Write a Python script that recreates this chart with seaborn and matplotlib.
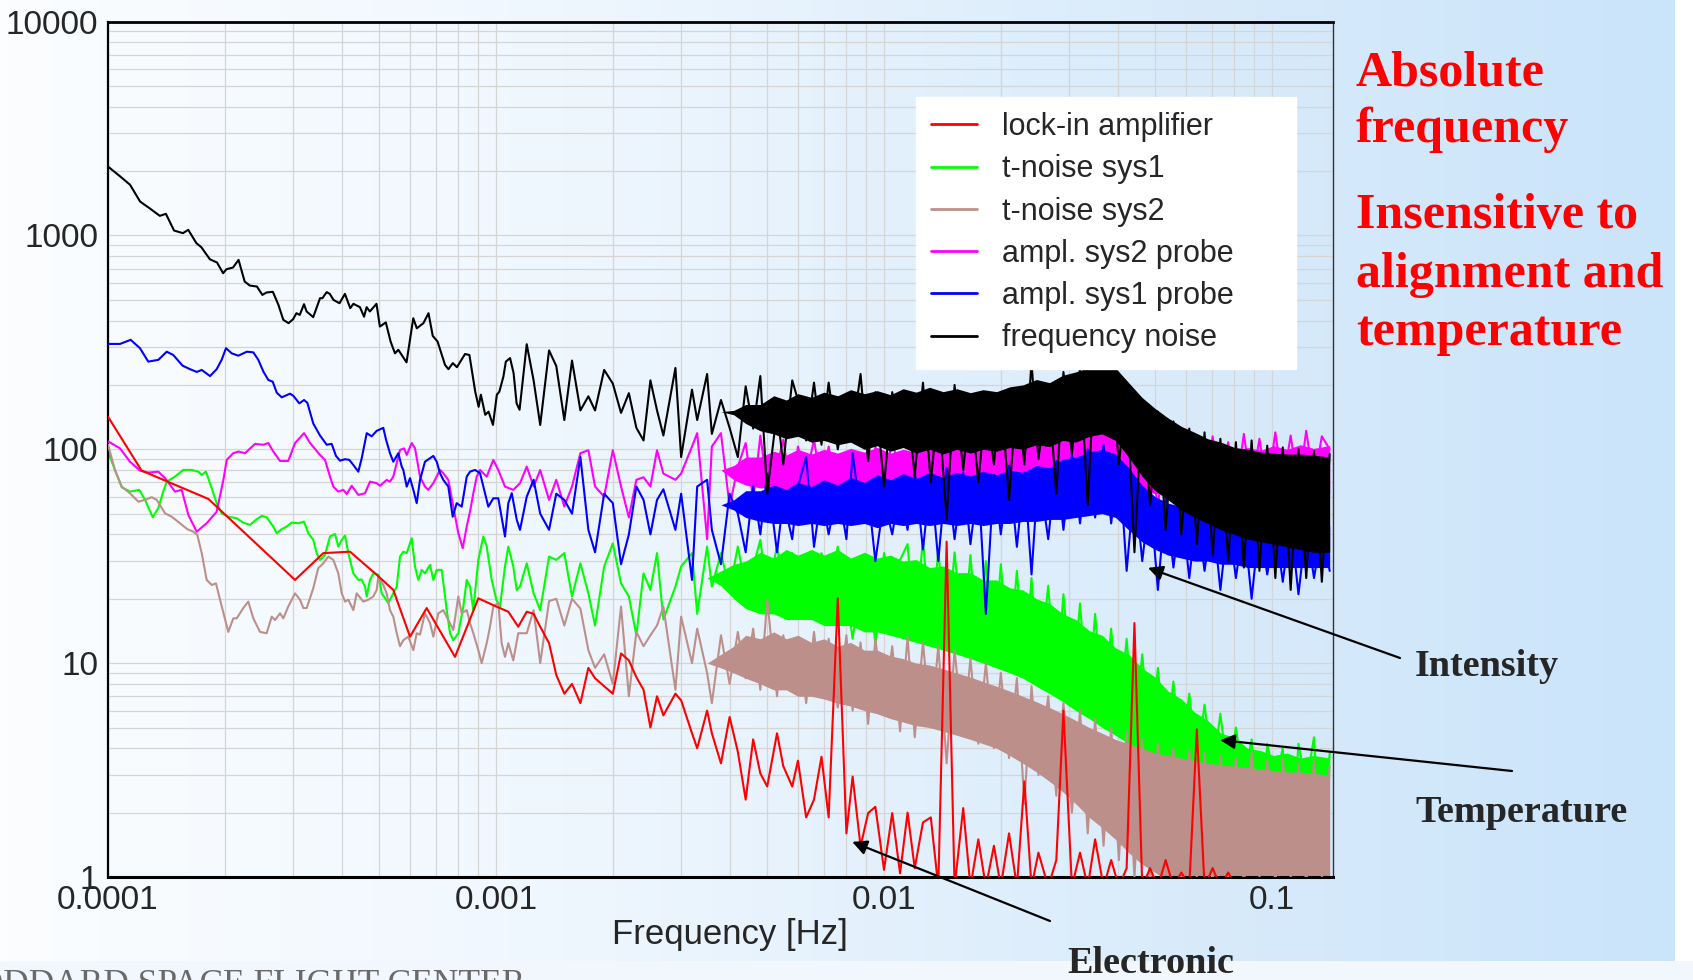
import numpy as np
import matplotlib
matplotlib.use("Agg")
import matplotlib.pyplot as plt
from matplotlib.colors import LinearSegmentedColormap
from matplotlib.lines import Line2D
from matplotlib.patches import Rectangle
from matplotlib.ticker import LogLocator, NullFormatter
import seaborn as sns

# ---------------- values ----------------
# low-frequency part: each trace has its own sample points
red_f_lo = [1.0e-4, 1.221e-4, 1.814e-4, 3.034e-4, 3.589e-4, 4.205e-4, 4.926e-4, 5.436e-4,
            6.004e-4, 6.627e-4, 7.84e-4, 9.004e-4, 1.0018e-3, 1.0758e-3, 1.141e-3]
red_v_lo = [142, 79.5, 58.6, 24.5, 32.7, 33.2, 25.9, 22, 13.3, 18.1, 10.7, 20.1, 18.4, 17.4, 14.8]

green_f_lo = [1.00e-4, 1.042e-4, 1.085e-4, 1.139e-4, 1.204e-4, 1.246e-4, 1.304e-4, 1.348e-4, 1.388e-4, 1.417e-4,
              1.488e-4, 1.563e-4, 1.643e-4, 1.709e-4, 1.744e-4, 1.788e-4, 1.832e-4, 1.906e-4, 1.963e-4, 2.042e-4,
              2.146e-4, 2.232e-4, 2.323e-4, 2.416e-4, 2.489e-4, 2.564e-4, 2.667e-4, 2.722e-4, 2.803e-4, 2.887e-4,
              2.974e-4, 3.094e-4, 3.201e-4, 3.283e-4, 3.381e-4, 3.450e-4, 3.519e-4, 3.625e-4, 3.734e-4, 3.847e-4,
              3.922e-4, 4.003e-4, 4.083e-4, 4.163e-4, 4.288e-4, 4.417e-4, 4.507e-4, 4.596e-4, 4.643e-4, 4.734e-4,
              4.828e-4, 4.974e-4, 5.075e-4, 5.277e-4, 5.436e-4, 5.548e-4, 5.657e-4, 5.769e-4, 5.886e-4, 6.064e-4,
              6.184e-4, 6.306e-4, 6.435e-4, 6.561e-4, 6.760e-4, 6.893e-4, 7.034e-4, 7.246e-4, 7.464e-4, 7.612e-4,
              7.762e-4, 7.996e-4, 8.238e-4, 8.405e-4, 8.571e-4, 8.741e-4, 9.004e-4, 9.275e-4, 9.463e-4, 9.748e-4,
              1.0018e-3, 1.024e-3, 1.0548e-3, 1.0758e-3, 1.108e-3, 1.131e-3, 1.153e-3]
green_v_lo = [97.6, 80.1, 66.5, 63.4, 64.6, 58, 48.1, 53.1, 63.4, 70.6,
              74.5, 80.1, 80.1, 78.6, 75.9, 78.6, 69.4, 56, 50.2, 48.4,
              47.6, 45.4, 44.3, 47.1, 48.8, 48.1, 43.5, 40.5, 42.3, 43.5,
              45.4, 45.1, 45.9, 40.5, 37.7, 32.7, 30.4, 32.1, 39.1, 40.2,
              35.1, 37.7, 39.5, 32.7, 26.3, 24.5, 24.6, 22.8, 20.5, 24.5,
              26.3, 25.9, 21.2, 19.1, 21.2, 22.8, 31.5, 33.2, 32.7, 38.4,
              28.3, 24.5, 27.3, 26.3, 28.8, 24.5, 27.3, 27.3, 17.7, 13.8,
              12.8, 13.8, 18.4, 24.5, 22.8, 17.7, 30.4, 39.1, 35.1, 24.5,
              19.8, 18.4, 28.3, 35.1, 28.3, 22, 22.8]

brown_f_lo = [1.00e-4, 1.042e-4, 1.085e-4, 1.139e-4, 1.197e-4, 1.246e-4, 1.296e-4, 1.335e-4, 1.403e-4, 1.459e-4,
              1.533e-4, 1.601e-4, 1.659e-4, 1.699e-4, 1.744e-4, 1.796e-4, 1.851e-4, 1.898e-4, 1.944e-4, 2.042e-4,
              2.103e-4, 2.146e-4, 2.232e-4, 2.299e-4, 2.369e-4, 2.465e-4, 2.564e-4, 2.642e-4, 2.694e-4, 2.776e-4,
              2.830e-4, 2.915e-4, 3.034e-4, 3.125e-4, 3.187e-4, 3.252e-4, 3.381e-4, 3.483e-4, 3.589e-4, 3.697e-4,
              3.808e-4, 3.922e-4, 4.003e-4, 4.083e-4, 4.163e-4, 4.288e-4, 4.375e-4, 4.550e-4, 4.687e-4, 4.828e-4,
              4.926e-4, 4.974e-4, 5.123e-4, 5.227e-4, 5.330e-4, 5.436e-4, 5.548e-4, 5.657e-4, 5.769e-4, 5.943e-4,
              6.123e-4, 6.246e-4, 6.370e-4, 6.561e-4, 6.760e-4, 6.893e-4, 7.100e-4, 7.315e-4, 7.535e-4, 7.762e-4,
              7.996e-4, 8.159e-4, 8.405e-4, 8.571e-4, 8.741e-4, 9.004e-4, 9.186e-4, 9.463e-4, 9.650e-4, 9.841e-4,
              1.0137e-3, 1.034e-3, 1.0548e-3, 1.0758e-3, 1.108e-3, 1.141e-3]
brown_v_lo = [105, 80.1, 66.9, 62.3, 56.9, 58, 59.7, 58, 50.2, 48.4,
              45.1, 42.3, 41.2, 39.8, 32.7, 24.5, 23.2, 23.6, 19.8, 14,
              16.2, 16.2, 18.1, 19.4, 16.2, 14, 13.8, 16.5, 15.9, 17.1,
              16.2, 18.4, 21.2, 19.8, 18.1, 18.1, 22.4, 27.8, 29.3, 31.5,
              30.4, 26.3, 21.2, 19.4, 19.8, 17.7, 21.2, 19.4, 19.8, 20.5,
              22, 25.4, 23.2, 21.2, 17.7, 16.5, 13.8, 12, 12.8, 13.3,
              11.5, 13.8, 13.6, 17.1, 15.4, 13.3, 17.1, 17.7, 15.9, 14.3,
              20.5, 17.1, 17.7, 15.4, 13.8, 11.5, 10, 12.4, 14.8, 18.4,
              19.1, 12.4, 10.7, 12.4, 10.3, 13.8]

magenta_f_lo = [1.00e-4, 1.074e-4, 1.139e-4, 1.209e-4, 1.270e-4, 1.348e-4, 1.403e-4, 1.488e-4, 1.549e-4, 1.611e-4,
                1.693e-4, 1.796e-4, 1.906e-4, 1.983e-4, 2.023e-4, 2.103e-4, 2.167e-4, 2.255e-4, 2.393e-4, 2.514e-4,
                2.589e-4, 2.667e-4, 2.776e-4, 2.915e-4, 3.034e-4, 3.201e-4, 3.317e-4, 3.519e-4, 3.625e-4, 3.734e-4,
                3.808e-4, 3.922e-4, 4.041e-4, 4.123e-4, 4.247e-4, 4.417e-4, 4.596e-4, 4.734e-4, 4.926e-4, 5.023e-4,
                5.227e-4, 5.330e-4, 5.436e-4, 5.548e-4, 5.657e-4, 5.793e-4, 5.886e-4, 6.064e-4, 6.184e-4, 6.370e-4,
                6.561e-4, 6.691e-4, 6.893e-4, 7.173e-4, 7.315e-4, 7.535e-4, 7.762e-4, 7.996e-4, 8.209e-4, 8.405e-4,
                8.571e-4, 8.741e-4, 8.919e-4, 9.096e-4, 9.463e-4, 9.650e-4, 9.841e-4, 1.0137e-3, 1.0548e-3, 1.108e-3,
                1.153e-3]
magenta_v_lo = [109, 101, 87.5, 79.5, 77.8, 78.6, 73.3, 63.4, 64.6, 49.3,
                41.2, 45.1, 51.1, 71.9, 89.2, 95.9, 97.6, 95.9, 106, 105,
                107, 97.6, 88.2, 88.2, 107, 119, 107, 94.1, 89.2, 74.5,
                66.9, 63.4, 64.6, 61.8, 67.5, 61.2, 62.3, 70.6, 69.4, 67.5,
                71.9, 70.6, 74.5, 86.1, 99.3, 101, 94.1, 107, 101, 74.5,
                66.9, 64.6, 69.4, 80.1, 77.3, 71.9, 53.9, 40.5, 34.5, 43.5,
                51.1, 62.3, 74.5, 80.1, 74.5, 81.6, 89.2, 80.1, 66.9, 64.6,
                69.4]

blue_f_lo = [1.00e-4, 1.074e-4, 1.144e-4, 1.209e-4, 1.270e-4, 1.348e-4, 1.417e-4, 1.473e-4, 1.557e-4, 1.627e-4,
             1.693e-4, 1.744e-4, 1.832e-4, 1.906e-4, 1.963e-4, 2.014e-4, 2.084e-4, 2.167e-4, 2.279e-4, 2.369e-4,
             2.440e-4, 2.514e-4, 2.589e-4, 2.658e-4, 2.722e-4, 2.803e-4, 2.945e-4, 3.003e-4, 3.112e-4, 3.201e-4,
             3.264e-4, 3.381e-4, 3.519e-4, 3.662e-4, 3.771e-4, 3.869e-4, 3.962e-4, 4.083e-4, 4.188e-4, 4.288e-4,
             4.417e-4, 4.507e-4, 4.643e-4, 4.781e-4, 4.926e-4, 5.123e-4, 5.206e-4, 5.330e-4, 5.436e-4, 5.601e-4,
             5.715e-4, 5.769e-4, 5.886e-4, 6.004e-4, 6.123e-4, 6.246e-4, 6.370e-4, 6.561e-4, 6.760e-4, 6.893e-4,
             7.034e-4, 7.173e-4, 7.315e-4, 7.535e-4, 7.735e-4, 7.920e-4, 8.159e-4, 8.405e-4, 8.571e-4, 8.829e-4,
             9.096e-4, 9.275e-4, 9.555e-4, 9.841e-4, 1.0137e-3, 1.0548e-3, 1.0758e-3, 1.098e-3, 1.131e-3, 1.153e-3]
blue_v_lo = [311, 311, 325, 297, 257, 262, 286, 276, 246, 237,
             230, 235, 220, 237, 262, 297, 281, 274, 286, 284,
             262, 231, 211, 207, 184, 175, 182, 178, 164, 170,
             165, 132, 116, 105, 106, 93.1, 88.5, 89.9, 89.2, 84.5,
             78.6, 90.8, 119, 115, 122, 126, 111, 95.9, 87.5, 95.9,
             83, 80.1, 66.9, 73.3, 64.6, 56, 71.9, 87.5, 90.8, 93.1,
             87.5, 77.3, 71.9, 66.9, 48.4, 56, 53.9, 74.5, 78.6, 80.1,
             77.3, 66.9, 53.9, 59, 59, 39.1, 56, 62.3, 46.8, 42]

black_f_lo = [1.00e-4, 1.074e-4, 1.14e-4, 1.21e-4, 1.28e-4, 1.36e-4, 1.41e-4, 1.48e-4, 1.56e-4, 1.61e-4,
              1.69e-4, 1.74e-4, 1.83e-4, 1.91e-4, 1.98e-4, 2.02e-4, 2.10e-4, 2.17e-4, 2.25e-4, 2.32e-4,
              2.42e-4, 2.50e-4, 2.56e-4, 2.66e-4, 2.75e-4, 2.83e-4, 2.92e-4, 3.00e-4, 3.06e-4, 3.12e-4,
              3.20e-4, 3.25e-4, 3.38e-4, 3.52e-4, 3.57e-4, 3.66e-4, 3.73e-4, 3.81e-4, 3.95e-4, 4.08e-4,
              4.21e-4, 4.29e-4, 4.46e-4, 4.57e-4, 4.64e-4, 4.73e-4, 4.92e-4, 5.02e-4, 5.20e-4, 5.35e-4,
              5.49e-4, 5.60e-4, 5.88e-4, 6.12e-4, 6.25e-4, 6.50e-4, 6.70e-4, 6.87e-4, 7.07e-4, 7.39e-4,
              7.54e-4, 7.74e-4, 7.93e-4, 8.32e-4, 8.54e-4, 8.84e-4, 9.02e-4, 9.14e-4, 9.38e-4, 9.57e-4,
              9.82e-4, 1.005e-3, 1.02e-3, 1.045e-3, 1.06e-3, 1.087e-3, 1.11e-3, 1.13e-3, 1.15e-3]
black_v_lo = [2100, 1890, 1725, 1440, 1340, 1235, 1262, 1054, 1025, 1062,
              920, 881, 774, 747, 666, 695, 708, 769, 609, 583,
              577, 527, 541, 545, 473, 403, 389, 406, 433, 425,
              477, 441, 415, 509, 509, 543, 533, 500, 482, 533,
              457, 479, 462, 417, 462, 441, 479, 375, 392, 319,
              281, 292, 255, 410, 368, 389, 433, 339, 319, 248,
              237, 253, 242, 279, 276, 186, 158, 180, 145, 150,
              130, 180, 186, 219, 257, 267, 227, 164, 153]

# high-frequency part: all traces read at the same frequencies
dense_f = [0.0012, 0.00125, 0.0013, 0.00137, 0.00143, 0.0015, 0.00157, 0.00165, 0.00173, 0.0018,
           0.0019, 0.002, 0.0021, 0.0022, 0.0023, 0.0024, 0.0025, 0.0026, 0.0027, 0.0029,
           0.003, 0.0032, 0.0033, 0.0035, 0.0036, 0.0038, 0.004, 0.0042, 0.0044, 0.0046,
           0.0048, 0.005, 0.0053, 0.0055, 0.0058, 0.006, 0.0063, 0.0066, 0.0069, 0.0072,
           0.0076, 0.008, 0.0083, 0.0087, 0.0091, 0.0095, 0.01, 0.0105, 0.011, 0.0115,
           0.012, 0.0126, 0.0132, 0.0138, 0.0145, 0.0152, 0.016, 0.0167, 0.0175, 0.0183,
           0.0192, 0.02, 0.021, 0.022, 0.023, 0.024, 0.025, 0.0265, 0.0278, 0.029,
           0.0305, 0.032, 0.0335, 0.035, 0.0368, 0.0385, 0.0403, 0.0422, 0.0442, 0.0463,
           0.0485, 0.0508, 0.0532, 0.0557, 0.0584, 0.0612, 0.064, 0.067, 0.0703, 0.0736,
           0.0771, 0.0807, 0.0846, 0.0886, 0.0928, 0.0972, 0.102, 0.1066, 0.1117, 0.117,
           0.1225, 0.1283, 0.1344, 0.1408]

red_v_hi = [17.4, 17, 14.8, 12.4, 8.8, 7.2, 8.0, 6.5, 9.5, 8.5,
            7.8, 7.2, 11.1, 10.3, 8.6, 7.5, 5.0, 7.0, 5.7, 7.2,
            6.7, 4.7, 4.0, 6.0, 4.7, 3.4, 5.6, 3.85, 2.3, 4.4,
            3.05, 2.65, 4.7, 3.3, 2.65, 3.5, 1.9, 2.3, 3.65, 1.9,
            20.1, 1.6, 2.95, 1.39, 1.99, 2.13, 1.08, 1.99, 1.04, 2.0,
            1.1, 1.8, 1.9, 0.9, 37, 0.9, 2.1, 0.9, 1.5, 0.9,
            1.4, 0.9, 1.6, 0.9, 2.8, 0.9, 1.3, 0.9, 1.2, 6.0,
            0.9, 1.3, 0.9, 1.5, 0.9, 1.2, 0.9, 1.1, 15.4, 0.9,
            1.1, 0.9, 1.2, 0.9, 1.05, 0.9, 4.9, 0.9, 1.1, 0.9,
            1.05, 0.9, 0.8, 0.9, 0.8, 0.9, 0.8, 0.9, 0.8, 0.9,
            0.8, 0.9, 0.8, 0.8]
green_v_hi = [29.3, 21.2, 17.7, 31.5, 30.4, 32.7, 20.5, 29.3, 21.2, 15,
              28.3, 36.3, 23.6, 20.5, 13.5, 26.3, 22, 32.7, 16, 22.8,
              28.3, 32.7, 17, 35.1, 22.8, 32.7, 22, 35.1, 22.8, 28.3,
              37.7, 21.2, 35.1, 23.6, 32.7, 21.2, 30.4, 22, 32.7, 21.2,
              35.1, 21.2, 13, 22.8, 31.5, 12, 32.7, 21.2, 30.4, 36,
              14, 38, 13, 34, 12, 33, 12.5, 32, 11, 30,
              10.5, 29, 10, 27, 9, 25, 8.5, 23, 7.5, 21,
              7, 19, 6.2, 17, 5.6, 14.5, 5.2, 13, 4.6, 11,
              4.2, 9.5, 3.9, 8.2, 3.5, 7.2, 3.3, 6.4, 3.1, 5.8,
              2.9, 5, 2.8, 4.4, 1.1, 4.2, 2.8, 4.0, 1.2, 4.2,
              2.7, 4.5, 1.1, 3.8]
brown_v_hi = [13.8, 17.7, 10, 19.5, 20, 15, 20, 18, 11.5, 9.5,
              11, 8, 18.4, 7, 14, 12, 13.5, 15, 18.4, 7.5,
              16.5, 10, 14.5, 9, 6.5, 13.5, 8, 14, 8.5, 14.5,
              7.5, 19.8, 7, 13.5, 7.5, 13, 6.5, 14, 7, 13,
              6.2, 13.5, 6, 12.5, 5.2, 13, 6, 12, 4.8, 13.3,
              4.5, 12.5, 5, 12, 3.4, 11.5, 4.6, 10.5, 4.2, 10,
              4, 9, 3.6, 8.5, 2.2, 7.8, 3, 7, 2.4, 6.5,
              2, 6, 1.6, 5.5, 1.4, 5, 1.2, 4.8, 1.0, 4.4,
              0.9, 4.2, 1.1, 4.0, 0.9, 3.9, 1.0, 3.8, 0.9, 3.7,
              1.0, 3.6, 0.9, 3.8, 1.0, 3.5, 0.9, 3.6, 1.0, 3.4,
              0.9, 3.5, 1.0, 3.3]
magenta_v_hi = [83, 67, 80, 58, 72, 54, 67, 96, 99, 67,
                60, 99, 67, 48, 72, 74, 67, 99, 77, 72,
                77, 103, 119, 38, 103, 119, 54, 83, 107, 58,
                116, 67, 83, 111, 58, 103, 74, 111, 67, 103,
                58, 96, 62, 92, 54, 103, 67, 111, 74, 62,
                112, 58, 105, 66, 118, 60, 108, 70, 112, 64,
                104, 72, 115, 66, 106, 60, 112, 70, 120, 72,
                118, 75, 125, 80, 128, 82, 120, 70, 95, 52,
                90, 55, 100, 58, 105, 62, 110, 60, 115, 65,
                108, 62, 118, 66, 112, 64, 120, 68, 116, 65,
                122, 70, 115, 100]
blue_v_hi = [60, 72, 50, 42, 62, 58, 50, 92, 42, 33,
             62, 56, 29, 40, 67, 58, 40, 58, 65, 42,
             62, 24.5, 67, 72, 42, 29, 62, 50, 33, 67,
             40, 77, 33, 58, 38, 67, 92, 35, 62, 40,
             67, 38, 96, 50, 62, 30, 58, 40, 67, 42,
             80, 34, 75, 30, 82, 38, 78, 36, 72, 17,
             76, 40, 84, 35, 78, 26, 80, 38, 88, 42,
             95, 45, 100, 48, 105, 45, 95, 27, 70, 30,
             62, 22, 60, 28, 55, 25, 52, 27, 50, 22,
             48, 25, 46, 20, 45, 26, 44, 24, 46, 21,
             44, 25, 42, 27]
black_v_hi = [310, 210, 130, 290, 245, 137, 260, 152, 177, 152,
              235, 203, 148, 183, 126, 110, 210, 152, 116, 240,
              92, 190, 137, 225, 118, 170, 126, 92, 197, 125,
              220, 62, 152, 85, 210, 170, 110, 205, 105, 205,
              100, 170, 120, 225, 88, 185, 67, 185, 110, 160,
              75, 205, 70, 165, 47, 200, 80, 175, 70, 165,
              85, 185, 58, 190, 85, 255, 90, 200, 62, 230,
              95, 240, 55, 265, 120, 240, 85, 190, 33, 165,
              55, 150, 42, 135, 40, 125, 36, 120, 32, 112,
              30, 108, 28, 110, 27, 104, 25, 102, 22, 100,
              25, 98, 24, 95]

# solid cores of the noisy traces (lower / upper edge)
band_f = [0.0035, 0.0038, 0.0041, 0.0044, 0.0048, 0.0052, 0.0056, 0.006, 0.0065, 0.007,
          0.0076, 0.0082, 0.0089, 0.0096, 0.0104, 0.0112, 0.0121, 0.0131, 0.0142, 0.0154,
          0.0167, 0.018, 0.0195, 0.0211, 0.0228, 0.0247, 0.0267, 0.0289, 0.0312, 0.0338,
          0.0365, 0.0395, 0.0427, 0.0462, 0.05, 0.054, 0.0584, 0.0632, 0.0683, 0.0739,
          0.08, 0.0865, 0.0935, 0.101, 0.1094, 0.1183, 0.128, 0.1408]
black_lo = [150, 150, 145, 132, 122, 118, 112, 115, 108, 110,
            105, 108, 100, 104, 98, 102, 96, 100, 95, 100,
            96, 100, 98, 102, 100, 105, 103, 110, 108, 115,
            118, 110, 92, 75, 64, 58, 52, 48, 45, 42,
            40, 38, 37, 36, 35, 34, 33, 33]
black_up = [150, 150, 152, 162, 162, 178, 170, 182, 175, 185,
            178, 190, 182, 188, 180, 192, 185, 195, 186, 192,
            184, 190, 186, 196, 200, 212, 205, 222, 230, 242,
            260, 240, 205, 175, 155, 140, 128, 120, 112, 108,
            102, 100, 97, 96, 95, 95, 94, 92]
magenta_lo = [80, 80, 72, 68, 66, 66, 65, 65, 65, 65,
              65, 65, 65, 65, 65, 65, 66, 66, 66, 67,
              67, 68, 68, 70, 70, 72, 72, 74, 75, 78,
              80, 78, 70, 64, 62, 62, 62, 62, 62, 62,
              62, 62, 62, 62, 62, 62, 62, 62]
magenta_up = [80, 80, 84, 92, 92, 98, 94, 100, 95, 100,
              96, 101, 97, 102, 96, 100, 97, 102, 98, 103,
              99, 104, 100, 105, 102, 107, 105, 110, 112, 118,
              122, 116, 102, 95, 92, 96, 94, 98, 96, 100,
              98, 102, 99, 104, 100, 105, 101, 104]
blue_lo = [55, 55, 52, 48, 46, 45, 45, 44, 45, 44,
           45, 44, 45, 43, 45, 44, 45, 44, 45, 44,
           45, 44, 45, 45, 46, 46, 47, 47, 48, 49,
           50, 48, 42, 37, 34, 32, 31, 30, 30, 29,
           29, 28, 28, 28, 28, 28, 28, 28]
blue_up = [55, 55, 58, 64, 64, 68, 65, 70, 67, 72,
           68, 74, 70, 76, 72, 77, 73, 78, 74, 78,
           75, 79, 76, 80, 78, 84, 82, 90, 92, 97,
           100, 95, 82, 68, 60, 56, 54, 52, 50, 49,
           48, 47, 46, 46, 45, 45, 44, 44]
green_lo = [25, 23, 20, 18, 17, 17, 16, 16, 16, 15,
            15, 15, 14, 14, 13.5, 13, 12.5, 12, 11.5, 11,
            10.5, 10, 9.5, 9, 8.5, 7.8, 7.2, 6.6, 6, 5.5,
            5, 4.6, 4.2, 3.9, 3.6, 3.4, 3.3, 3.2, 3.1, 3.0,
            2.9, 2.9, 2.9, 2.9, 2.9, 2.9, 2.9, 2.9]
green_up = [25, 27, 29, 30, 33, 31, 34, 32, 34, 32,
            34, 31, 33, 31, 32, 30, 30.5, 28, 28.5, 26.5,
            26.5, 24.5, 24.5, 22.5, 22, 20, 19, 17, 16, 14.2,
            13.5, 11.8, 11, 9.5, 8.6, 7.4, 6.8, 5.9, 5.4, 4.7,
            4.5, 4.0, 3.9, 3.7, 3.8, 3.6, 3.7, 3.6]
brown_lo = [10, 9.5, 9, 8.5, 8, 7.5, 7.5, 7, 7, 6.8,
            6.5, 6.3, 6, 5.8, 5.5, 5.3, 5.1, 5, 4.8, 4.6,
            4.4, 4.2, 4, 3.7, 3.4, 3.1, 2.8, 2.5, 2.2, 1.9,
            1.7, 1.5, 1.3, 1.15, 1.05, 0.95, 0.9, 0.9, 0.9, 0.9,
            0.9, 0.9, 0.9, 0.9, 0.9, 0.9, 0.9, 0.9]
brown_up = [10, 11, 12, 13.5, 13, 14, 13, 13.5, 12.5, 13,
            12, 12.5, 11.5, 11.5, 10.8, 10.5, 10, 9.8, 9.4, 9,
            8.6, 8.2, 7.8, 7.4, 7, 6.6, 6.2, 5.8, 5.4, 5,
            4.7, 4.4, 4.2, 4, 3.8, 3.7, 3.6, 3.5, 3.4, 3.35,
            3.3, 3.25, 3.2, 3.15, 3.1, 3.1, 3.05, 3.0]

labels = ["lock-in amplifier", "t-noise sys1", "t-noise sys2",
          "ampl. sys2 probe", "ampl. sys1 probe", "frequency noise"]
colors = ["#ff0000", "#00ff00", "#bd8f8b", "#ff00ff", "#0000ff", "#000000"]
xtick_vals = [1e-4, 1e-3, 1e-2, 1e-1]
xtick_labels = ["0.0001", "0.001", "0.01", "0.1"]
ytick_vals = [1, 10, 100, 1000, 10000]
ytick_labels = ["1", "10", "100", "1000", "10000"]

# ---------------- figure ----------------
sns.set_style("white")
plt.rcParams["font.family"] = ["Liberation Sans", "DejaVu Sans"]

fig = plt.figure(figsize=(16.93, 9.80), dpi=100)

# slide background: white -> light blue from left to right
bg = fig.add_axes([0, 0, 1, 1], zorder=-10)
grad = np.linspace(0, 1, 256).reshape(1, -1)
slide = LinearSegmentedColormap.from_list("slide", ["#fbfdff", "#eff7fe", "#dbecfb", "#cae4fa"])
bg.imshow(grad, cmap=slide, aspect="auto", extent=[0, 1675 / 1693, 19 / 980, 1])
bg.add_patch(Rectangle((0, 0), 1, 19 / 980, color="#f1f7fd", lw=0))
bg.set_xlim(0, 1)
bg.set_ylim(0, 1)
bg.axis("off")

ax = fig.add_axes([108 / 1693, 103 / 980, 1225 / 1693, 855.4 / 980])
ax.set_facecolor("none")
ax.set_xscale("log")
ax.set_yscale("log")
ax.set_xlim(1e-4, 0.1436)
ax.set_ylim(1, 10000)

traces = [
    (green_f_lo + dense_f, green_v_lo + green_v_hi, colors[1], green_lo, green_up, 2),
    (brown_f_lo + dense_f, brown_v_lo + brown_v_hi, colors[2], brown_lo, brown_up, 3),
    (magenta_f_lo + dense_f, magenta_v_lo + magenta_v_hi, colors[3], magenta_lo, magenta_up, 4),
    (blue_f_lo + dense_f, blue_v_lo + blue_v_hi, colors[4], blue_lo, blue_up, 5),
    (black_f_lo + dense_f, black_v_lo + black_v_hi, colors[5], black_lo, black_up, 6),
    (red_f_lo + dense_f, red_v_lo + red_v_hi, colors[0], None, None, 7),
]
for f, v, c, lo, up, z in traces:
    if lo is not None:
        ax.fill_between(band_f, lo, up, color=c, lw=0, zorder=z - 0.5)
    sns.lineplot(x=f, y=v, ax=ax, color=c, linewidth=1.5, estimator=None,
                 sort=False, legend=False, zorder=z)

# grid and frame
ax.xaxis.set_minor_locator(LogLocator(base=10, subs=np.arange(2, 10), numticks=20))
ax.yaxis.set_minor_locator(LogLocator(base=10, subs=np.arange(2, 10), numticks=20))
ax.xaxis.set_minor_formatter(NullFormatter())
ax.yaxis.set_minor_formatter(NullFormatter())
ax.grid(True, which="both", color="#d5d5d5", lw=0.9)
ax.set_axisbelow(True)
ax.set_xticks(xtick_vals)
ax.set_xticklabels(xtick_labels)
ax.set_yticks(ytick_vals)
ax.set_yticklabels(ytick_labels)
ax.tick_params(axis="both", which="both", length=0)
ax.tick_params(axis="x", labelsize=24, pad=6)
ax.tick_params(axis="y", labelsize=24, pad=7)
for side, lw, col in [("left", 1.6, "black"), ("bottom", 2.2, "black"),
                      ("top", 2.0, "black"), ("right", 1.0, "#333333")]:
    ax.spines[side].set_visible(True)
    ax.spines[side].set_linewidth(lw)
    ax.spines[side].set_color(col)

ax.set_xlabel("Frequency [Hz]", fontsize=25)
ax.xaxis.set_label_coords(0.508, -0.048)

handles = [Line2D([0], [0], color=c, lw=2) for c in colors]
leg = ax.legend(handles, labels, loc="upper left", mode="expand",
                bbox_to_anchor=(0.6596, 0.0, 0.310, 0.912),
                borderaxespad=0, fontsize=22, handlelength=1.5, handletextpad=0.8,
                labelspacing=0.4, borderpad=0.5, frameon=True, fancybox=False,
                framealpha=1, facecolor="white", edgecolor="white")
leg.set_zorder(20)

# arrows to the noise sources
arrow = dict(arrowstyle="-|>", color="black", lw=1.6, mutation_scale=22, shrinkA=0, shrinkB=0)
ax.annotate("", xy=(0.0479, 27.9), xytext=(1400 / 1693, 1 - 658 / 980),
            textcoords="figure fraction", arrowprops=arrow, annotation_clip=False, zorder=15)
ax.annotate("", xy=(0.0735, 4.37), xytext=(1512 / 1693, 1 - 771 / 980),
            textcoords="figure fraction", arrowprops=arrow, annotation_clip=False, zorder=15)
ax.annotate("", xy=(0.00828, 1.46), xytext=(1050 / 1693, 1 - 921 / 980),
            textcoords="figure fraction", arrowprops=arrow, annotation_clip=False, zorder=15)

serif = ["Liberation Serif", "DejaVu Serif"]
for txt, base in [("Absolute", 86), ("frequency", 142), ("Insensitive to", 228),
                  ("alignment and", 287), ("temperature", 345)]:
    fig.text(1356 / 1693, 1 - base / 980, txt, color="#ff0000", fontsize=36,
             fontweight="bold", family=serif, va="baseline", ha="left")
fig.text(1415 / 1693, 1 - 676 / 980, "Intensity", fontsize=27.5, fontweight="bold",
         family=serif, va="baseline")
fig.text(1415 / 1693, 1 - 822 / 980, "Temperature", fontsize=27.5, fontweight="bold",
         family=serif, va="baseline")
fig.text(1067 / 1693, 1 - 973 / 980, "Electronic", fontsize=27.5, fontweight="bold",
         family=serif, va="baseline")
# footer of the slide, only its top edge is inside the picture
fig.text(-48 / 1693, 1 - 994 / 980, "GODDARD SPACE FLIGHT CENTER", fontsize=25.5,
         color="#6a6a6a", family=serif, va="baseline", ha="left")

fig.savefig("out.png", dpi=100)
